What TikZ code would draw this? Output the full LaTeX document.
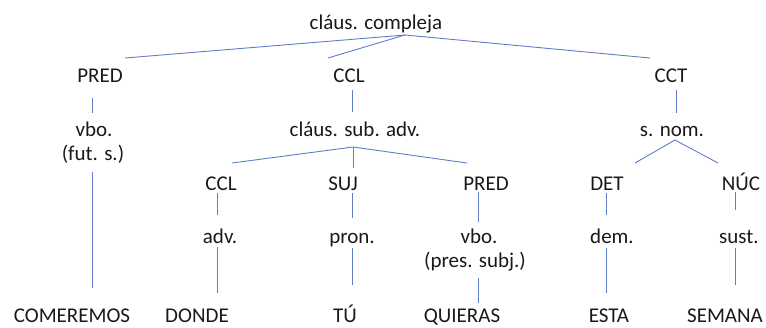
\documentclass[tikz,border=0pt]{standalone}
\usepackage{fontspec}
\setmainfont{Carlito}
\definecolor{edgec}{RGB}{95,125,200}
\definecolor{txtc}{RGB}{25,25,25}
\begin{document}
\begin{tikzpicture}[x=1pt,y=-1pt,
  lbl/.style={anchor=base,inner sep=0pt,font=\fontsize{21}{24}\selectfont,text=txtc},
  edge/.style={draw=edgec,line width=0.9pt}]
\useasboundingbox (0,0) rectangle (766,327);
% nodes
\node[lbl] (top) at (376,29) {cláus. compleja};
\node[lbl] (pred1) at (100,82) {PRED};
\node[lbl] (ccl1) at (349,82) {CCL};
\node[lbl] (cct) at (671,82) {CCT};
\node[lbl] (vbo1) at (94,136) {vbo.};
\node[lbl] (fut) at (93,160) {(fut. s.)};
\node[lbl] (sub) at (355,136) {cláus. sub. adv.};
\node[lbl] (snom) at (672,136) {s. nom.};
\node[lbl] (ccl2) at (221,190) {CCL};
\node[lbl] (suj) at (343,190) {SUJ};
\node[lbl] (pred2) at (486,190) {PRED};
\node[lbl] (det) at (607,190) {DET};
\node[lbl] (nuc) at (741,190) {NÚC};
\node[lbl] (adv) at (220,243) {adv.};
\node[lbl] (pron) at (352,243) {pron.};
\node[lbl] (vbo2) at (479,243) {vbo.};
\node[lbl] (pres) at (475,267) {(pres. subj.)};
\node[lbl] (dem) at (612,243) {dem.};
\node[lbl] (sust) at (739,243) {sust.};
\node[lbl] (w1) at (72,322) {COMEREMOS};
\node[lbl] (w2) at (197,322) {DONDE};
\node[lbl] (w3) at (345,322) {TÚ};
\node[lbl] (w4) at (462,322) {QUIERAS};
\node[lbl] (w5) at (609,322) {ESTA};
\node[lbl] (w6) at (725,322) {SEMANA};
% connector end points
\coordinate (top-b) at (405,35);
\coordinate (pred1-t) at (125,58);
\coordinate (ccl1-t) at (328,58);
\coordinate (cct-t) at (650,58);
\coordinate (pred1-b) at (92,98);
\coordinate (vbo1-t) at (92,113);
\coordinate (fut-b) at (92,172);
\coordinate (w1-t) at (92,288);
\coordinate (ccl1-b) at (352,90);
\coordinate (sub-t) at (352,112);
\coordinate (cct-b) at (676,90);
\coordinate (snom-t) at (676,113);
\coordinate (sub-b) at (353,147);
\coordinate (ccl2-t) at (232,163);
\coordinate (suj-t) at (353,168);
\coordinate (pred2-t) at (467,163);
\coordinate (snom-b) at (675,140);
\coordinate (det-t) at (635,163);
\coordinate (nuc-t) at (718,163);
\coordinate (ccl2-b) at (217,193);
\coordinate (adv-t) at (217,215);
\coordinate (adv-b) at (217,247);
\coordinate (w2-t) at (217,293);
\coordinate (suj-b) at (352,193);
\coordinate (pron-t) at (352,218);
\coordinate (pron-b) at (352,248);
\coordinate (w3-t) at (352,285);
\coordinate (pred2-b) at (478,192);
\coordinate (vbo2-t) at (478,222);
\coordinate (pres-b) at (478,278);
\coordinate (w4-t) at (478,303);
\coordinate (det-b) at (606,193);
\coordinate (dem-t) at (606,215);
\coordinate (dem-b) at (606,248);
\coordinate (w5-t) at (606,293);
\coordinate (nuc-b) at (735,192);
\coordinate (sust-t) at (735,210);
\coordinate (sust-b) at (735,248);
\coordinate (w6-t) at (735,285);
% connectors
\draw[edge] (top-b) -- (pred1-t);
\draw[edge] (top-b) -- (ccl1-t);
\draw[edge] (top-b) -- (cct-t);
\draw[edge] (pred1-b) -- (vbo1-t);
\draw[edge] (fut-b) -- (w1-t);
\draw[edge] (ccl1-b) -- (sub-t);
\draw[edge] (cct-b) -- (snom-t);
\draw[edge] (sub-b) -- (ccl2-t);
\draw[edge] (sub-b) -- (suj-t);
\draw[edge] (sub-b) -- (pred2-t);
\draw[edge] (snom-b) -- (det-t);
\draw[edge] (snom-b) -- (nuc-t);
\draw[edge] (ccl2-b) -- (adv-t);
\draw[edge] (adv-b) -- (w2-t);
\draw[edge] (suj-b) -- (pron-t);
\draw[edge] (pron-b) -- (w3-t);
\draw[edge] (pred2-b) -- (vbo2-t);
\draw[edge] (pres-b) -- (w4-t);
\draw[edge] (det-b) -- (dem-t);
\draw[edge] (dem-b) -- (w5-t);
\draw[edge] (nuc-b) -- (sust-t);
\draw[edge] (sust-b) -- (w6-t);
\end{tikzpicture}
\end{document}
